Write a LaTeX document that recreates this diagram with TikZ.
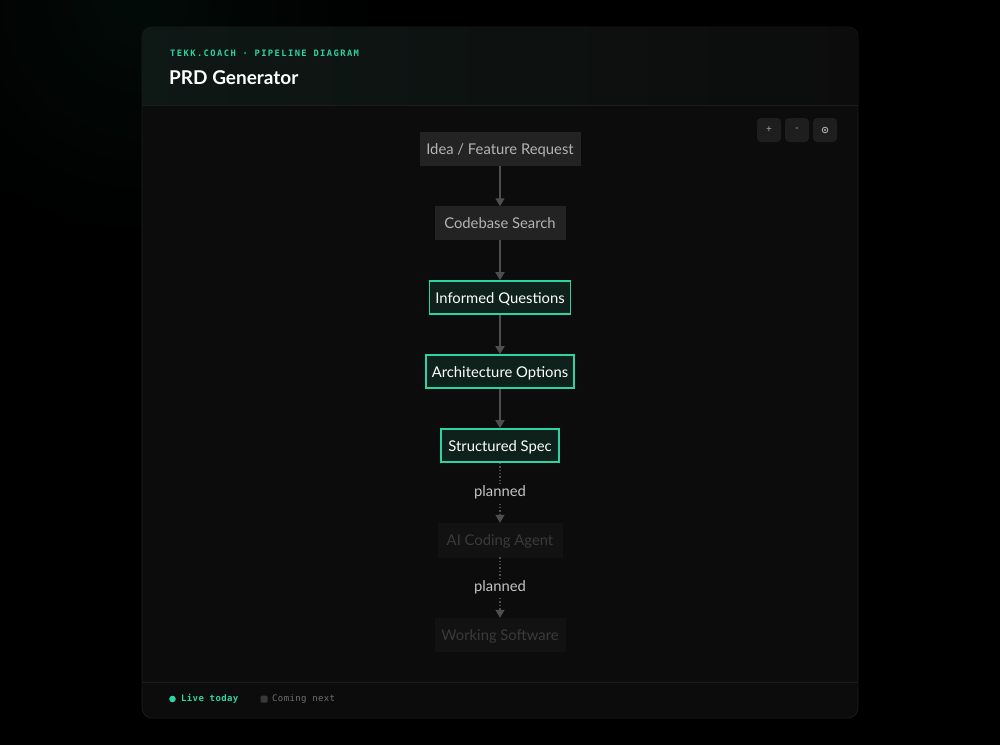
\documentclass[tikz,border=0pt]{standalone}
\usepackage{fontspec}
\setmainfont{Lato}
\newfontfamily\monohead[LetterSpace=16]{DejaVu Sans Mono}
\newfontfamily\monofoot[LetterSpace=4]{DejaVu Sans Mono}
\usetikzlibrary{arrows.meta,positioning,calc}
\definecolor{bgc}{HTML}{000000}
\definecolor{cardc}{HTML}{0C0C0C}
\definecolor{cardline}{HTML}{1C1C1C}
\definecolor{accent}{HTML}{2ED3A2}
\definecolor{actfill}{HTML}{0E211B}
\definecolor{nodefill}{HTML}{232323}
\definecolor{nodetext}{HTML}{B4B4B4}
\definecolor{fadefill}{HTML}{121212}
\definecolor{fadetext}{HTML}{3A3A3A}
\definecolor{edgec}{HTML}{4E4E4E}
\definecolor{btnc}{HTML}{1E1E1E}
\definecolor{btntext}{HTML}{A8A8A8}
\definecolor{nextdot}{HTML}{383838}
\definecolor{nexttext}{HTML}{707070}
\definecolor{plantext}{HTML}{C4C4C4}
\tikzset{
  base/.style={inner sep=0pt, minimum height=33pt, text height=11pt, text depth=0pt, font=\fontsize{14.8}{16}\selectfont, anchor=center},
  donebox/.style={base, fill=nodefill, text=nodetext, draw=nodefill},
  activebox/.style={base, fill=actfill, text=white, draw=accent, line width=1.6pt},
  fadebox/.style={base, fill=fadefill, text=fadetext, draw=fadefill},
  flow/.style={draw=edgec, line width=1.4pt, -{Triangle[width=9pt,length=8pt]}},
  planflow/.style={draw=edgec, line width=1.4pt, dotted, -{Triangle[width=9pt,length=8pt]}},
  planlabel/.style={font=\fontsize{14.8}{16}\selectfont, text=plantext, fill=cardc, inner sep=2pt, text height=11pt, text depth=3pt},
  btn/.style={fill=btnc, rounded corners=4pt, minimum width=24pt, minimum height=24pt, inner sep=0pt, text=btntext, font=\fontsize{10}{10}\selectfont}
}
\begin{document}
\begin{tikzpicture}[x=1pt,y=-1pt]
\useasboundingbox (0,0) rectangle (1000,745);
\fill[bgc] (0,0) rectangle (1000,745);
\shade[inner color=accent!5!black, outer color=black] (140,0) circle (240);
% card
\path[fill=cardc, draw=cardline, line width=0.8pt, rounded corners=10pt] (142,27) rectangle (858,718);
\begin{scope}
\clip[rounded corners=10pt] (142,27) rectangle (858,718);
\shade[left color=accent!6!cardc, right color=cardc] (142,27) rectangle (858,105);
\end{scope}
\draw[cardline, line width=1pt] (142,105) -- (858,105);
\draw[cardline, line width=1pt] (142,682) -- (858,682);
% header
\node[anchor=west, text=accent, font=\monohead\bfseries\fontsize{8.8}{10}\selectfont, inner sep=0pt] (kicker) at (170,53) {TEKK.COACH · PIPELINE DIAGRAM};
\node[anchor=west, text=white, font=\bfseries\fontsize{19}{22}\selectfont, inner sep=0pt] (title) at (169,77.5) {PRD Generator};
% buttons
\node[btn] (bplus) at (769,130) {+};
\node[btn] (bminus) at (797,130) {-};
\node[btn] (breset) at (825,130) {};
\draw[btntext, line width=0.9pt] (breset.center) circle (2.8pt);
\fill[btntext] (breset.center) circle (1.1pt);
% nodes
\node[donebox, minimum width=160pt] (idea) at (500,149) {Idea / Feature Request};
\node[donebox, minimum width=130pt] (search) at (500,223) {Codebase Search};
\node[activebox, minimum width=141pt] (questions) at (500,297.5) {Informed Questions};
\node[activebox, minimum width=148pt] (arch) at (500,371.5) {Architecture Options};
\node[activebox, minimum width=118pt] (spec) at (500,445.5) {Structured Spec};
\node[fadebox, minimum width=124pt, minimum height=34pt] (agent) at (500,540) {AI Coding Agent};
\node[fadebox, minimum width=130pt] (software) at (500,634.5) {Working Software};
% edges
\draw[flow] (idea.south) -- (search.north);
\draw[flow] (search.south) -- (questions.north);
\draw[flow] (questions.south) -- (arch.north);
\draw[flow] (arch.south) -- (spec.north);
\draw[planflow] (spec.south) -- (agent.north) node[planlabel, pos=0.5] (pl1) {planned};
\draw[planflow] (agent.south) -- (software.north) node[planlabel, pos=0.5] (pl2) {planned};
% footer legend
\fill[accent] (172.5,699) circle (3.3);
\node[anchor=west, text=accent, font=\monofoot\bfseries\fontsize{9}{10}\selectfont, inner sep=0pt] (live) at (181,699) {Live today};
\fill[nextdot, rounded corners=1pt] (260.5,695.5) rectangle (267.5,702.5);
\node[anchor=west, text=nexttext, font=\monofoot\fontsize{9}{10}\selectfont, inner sep=0pt] (next) at (272,699) {Coming next};
\end{tikzpicture}
\end{document}
